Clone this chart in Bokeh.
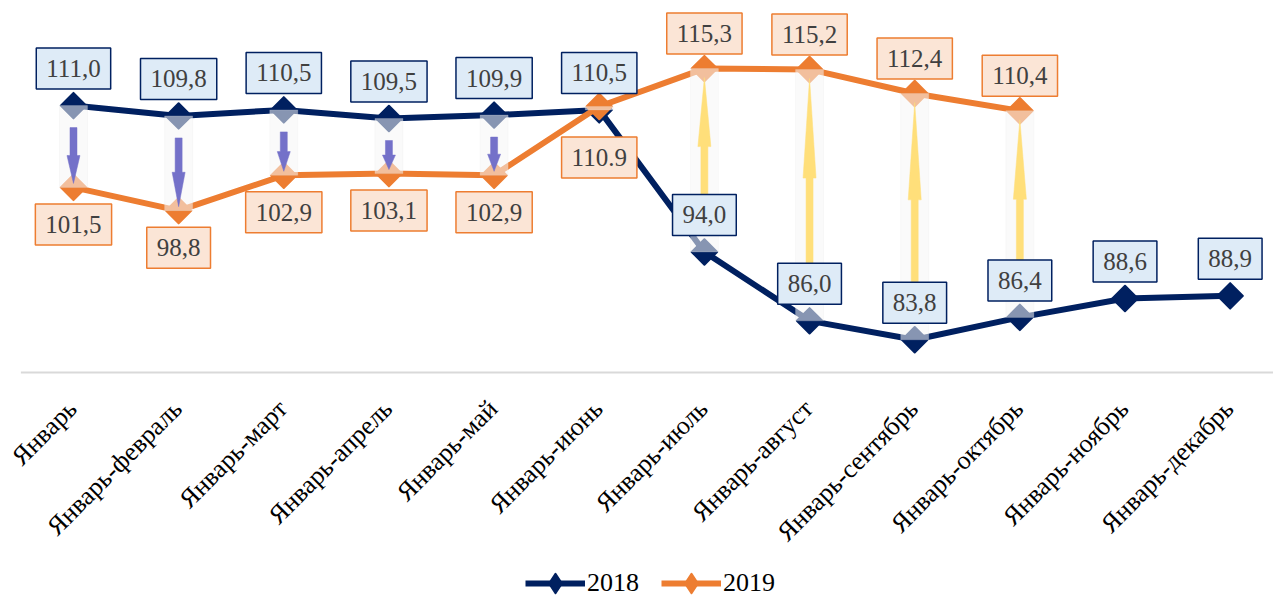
import numpy as np
from bokeh.plotting import figure
from bokeh.models import (Label, Legend, LegendItem, Range1d)
from bokeh.core.properties import value
from bokeh.embed import file_html
from bokeh.resources import INLINE

# ---------------- data ----------------
categories = ["Январь", "Январь-февраль", "Январь-март", "Январь-апрель", "Январь-май",
              "Январь-июнь", "Январь-июль", "Январь-август", "Январь-сентябрь",
              "Январь-октябрь", "Январь-ноябрь", "Январь-декабрь"]
values_2018 = [111.0, 109.8, 110.5, 109.5, 109.9, 110.5, 94.0, 86.0, 83.8, 86.4, 88.6, 88.9]
values_2019 = [101.5, 98.8, 102.9, 103.1, 102.9, 110.9, 115.3, 115.2, 112.4, 110.4]
labels_2018 = ["111,0", "109,8", "110,5", "109,5", "109,9", "110,5", "94,0", "86,0",
               "83,8", "86,4", "88,6", "88,9"]
labels_2019 = ["101,5", "98,8", "102,9", "103,1", "102,9", "110.9", "115,3", "115,2",
               "112,4", "110,4"]
series_names = ["2018", "2019"]
axis_min = 80.0

# ---------------- styles / layout ----------------
NAVY = "#002060"
ORANGE = "#ED7D31"
PURPLE = "#7471C9"
YELLOW = "#FFDF7A"
FONT = "Liberation Serif"

X0, X1 = -0.694, 11.412
Y0, Y1 = 53.98, 121.93
FRAME_W = 1273
FRAME_H = 585
PX_X = FRAME_W / (X1 - X0)
PX_Y = FRAME_H / (Y1 - Y0)

p = figure(frame_width=FRAME_W, frame_height=FRAME_H,
           x_range=Range1d(X0, X1), y_range=Range1d(Y0, Y1),
           output_backend="svg", toolbar_location=None,
           min_border_left=0, min_border_right=0, min_border_top=11, min_border_bottom=0)
p.outline_line_color = None
p.xgrid.visible = False
p.ygrid.visible = False
p.yaxis.visible = False
p.xaxis.visible = False

x18 = list(range(len(values_2018)))
x19 = list(range(len(values_2019)))

# category axis line and labels
p.segment(x0=[x18[0] - 0.5], x1=[x18[-1] + 0.5], y0=[axis_min], y1=[axis_min],
          line_color="#D9D9D9", line_width=2)
p.text(x=[i - 1 / PX_X for i in x18], y=[axis_min - 32 / PX_Y] * len(x18), text=categories,
       angle=np.pi / 4, text_align="right", text_baseline="middle",
       text_font=value(FONT), text_font_size="26px", text_color="#000000")

l18 = p.line(x18, values_2018, line_width=6, line_color=NAVY, line_join="round")
s18 = p.scatter(x18, values_2018, marker="square", angle=np.pi / 4, size=18,
                fill_color=NAVY, line_color=NAVY, line_width=2, line_join="round")
l19 = p.line(x19, values_2019, line_width=6, line_color=ORANGE, line_join="round")
s19 = p.scatter(x19, values_2019, marker="square", angle=np.pi / 4, size=18,
                fill_color=ORANGE, line_color=ORANGE, line_width=2, line_join="round")

# legend-only diamond glyphs (not drawn in the plot)
d18 = p.scatter([np.nan], [np.nan], marker="diamond", size=20, fill_color=NAVY,
                line_color=NAVY, line_width=2, line_join="round")
d19 = p.scatter([np.nan], [np.nan], marker="diamond", size=20, fill_color=ORANGE,
                line_color=ORANGE, line_width=2, line_join="round")

# up/down bars (semi-transparent white)
n = len(values_2019)
lo = [min(values_2018[i], values_2019[i]) for i in range(n)]
hi = [max(values_2018[i], values_2019[i]) for i in range(n)]
p.vbar(x=x19, bottom=lo, top=hi, width=28 / PX_X, fill_color="#F6F6F6", fill_alpha=0.55,
       line_color="#E6E6E6", line_alpha=0.2, line_width=1)

# arrows from 2018 to 2019
xs, ys, cols = [], [], []
sw = 3.5 / PX_X
hw = 6.5 / PX_X
for i in range(n):
    a, b = values_2018[i], values_2019[i]
    if abs(a - b) * PX_Y < 10:
        continue
    if b < a:
        tail = a - 22 / PX_Y
        tip = b + 4 / PX_Y
        frac = 0.5
        c = PURPLE
    else:
        tail = a + 21 / PX_Y
        tip = b - 9 / PX_Y
        frac = 0.45
        c = YELLOW
    base = tip + (tail - tip) * frac
    xs.append([i - sw, i - sw, i - hw, i, i + hw, i + sw, i + sw])
    ys.append([tail, base, base, tip, base, base, tail])
    cols.append(c)
p.patches(xs, ys, fill_color=cols, line_color=cols, line_width=0.5)

# data labels
for i, (v, t) in enumerate(zip(values_2018, labels_2018)):
    p.add_layout(Label(x=i, y=v, text=t, x_units="data", y_units="data", y_offset=37,
                       text_align="center", text_baseline="middle",
                       text_font=FONT, text_font_size="25px", text_color="#404040",
                       background_fill_color="#DEEBF7", border_line_color=NAVY,
                       border_line_width=1.5, padding=(10, 12)))
for i, (v, t) in enumerate(zip(values_2019, labels_2019)):
    if i == 5:
        off = -51
    elif values_2019[i] < values_2018[i]:
        off = -37
    else:
        off = 35
    p.add_layout(Label(x=i, y=v, text=t, x_units="data", y_units="data", y_offset=off,
                       text_align="center", text_baseline="middle",
                       text_font=FONT, text_font_size="25px", text_color="#404040",
                       background_fill_color="#FBE5D6", border_line_color=ORANGE,
                       border_line_width=1.5, padding=(10, 12)))

legend = Legend(items=[LegendItem(label=series_names[0], renderers=[l18, d18]),
                       LegendItem(label=series_names[1], renderers=[l19, d19])],
                orientation="horizontal", location=(525, -11),
                label_text_font=FONT, label_text_font_size="26px", label_text_color="#000000",
                glyph_width=60, glyph_height=48, spacing=22, label_standoff=2,
                border_line_color=None, background_fill_alpha=0, margin=0, padding=0)
p.add_layout(legend, "center")

open("out.html", "w").write(file_html(p, INLINE))
